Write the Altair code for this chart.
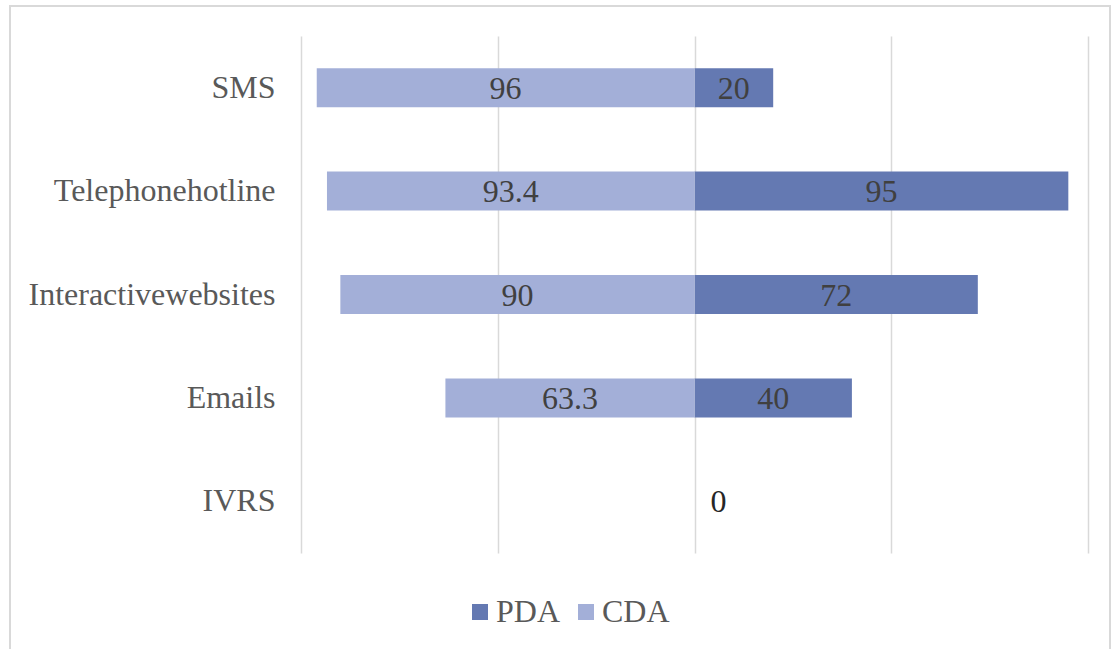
import altair as alt
import pandas as pd

# Source values
categories = ["SMS", "Telephonehotline", "Interactivewebsites", "Emails", "IVRS"]
pda_values = [20, 95, 72, 40, 0]
cda_values = [96, 93.4, 90, 63.3, None]

series_order = ["PDA", "CDA"]
series_colors = ["#6479B2", "#A3AFD8"]
FONT = "Liberation Serif"

rows = []
for cat, p, c in zip(categories, pda_values, cda_values):
    if p is not None:
        rows.append({"category": cat, "series": "PDA", "value": p, "signed": p})
    if c is not None:
        rows.append({"category": cat, "series": "CDA", "value": c, "signed": -c})
df = pd.DataFrame(rows)
df["mid"] = df["signed"] / 2
df["label"] = df["value"].map(lambda v: f"{v:g}")

x_scale = alt.Scale(domain=[-100, 100], nice=False)
y_scale = alt.Scale(domain=categories, paddingInner=0, paddingOuter=0)

base = alt.Chart(df)

bars = base.mark_bar(size=39).encode(
    x=alt.X("signed:Q", scale=x_scale,
            axis=alt.Axis(values=[-100, -50, 0, 50, 100], labels=False, ticks=False,
                          domain=False, title=None, grid=True,
                          gridColor="#d9d9d9", gridWidth=1.5)),
    y=alt.Y("category:N", scale=y_scale, sort=categories,
            axis=alt.Axis(title=None, ticks=False, domain=False, grid=False,
                          labelFont=FONT, labelFontSize=32, labelColor="#595959",
                          labelPadding=26, labelLimit=400)),
    color=alt.Color("series:N",
                    scale=alt.Scale(domain=series_order, range=series_colors),
                    legend=alt.Legend(title=None, orient="none", direction="horizontal",
                                      legendX=163, legendY=560, symbolType="square",
                                      symbolSize=256, symbolStrokeWidth=0,
                                      labelFont=FONT, labelFontSize=32,
                                      labelColor="#595959", columnPadding=9,
                                      labelOffset=0, padding=0)),
)

labels = base.transform_filter("datum.value > 0").mark_text(
    font=FONT, fontSize=32, color="#404040", baseline="middle", dy=1
).encode(
    x=alt.X("mid:Q", scale=x_scale),
    y=alt.Y("category:N", scale=y_scale, sort=categories),
    text="label:N",
)

zero_labels = base.transform_filter("datum.value == 0").mark_text(
    font=FONT, fontSize=32, color="#262626", baseline="middle", align="left", dx=16, dy=1
).encode(
    x=alt.X("signed:Q", scale=x_scale),
    y=alt.Y("category:N", scale=y_scale, sort=categories),
    text="label:N",
)

# light outer frame around the whole figure
frame = alt.Chart(pd.DataFrame({"k": [0]})).mark_rect(
    fill=None, stroke="#d9d9d9", strokeWidth=2
).encode(
    x=alt.value(-291), x2=alt.value(809), y=alt.value(-30), y2=alt.value(630)
)

chart = alt.layer(frame, bars, labels, zero_labels).properties(
    width=787, height=517,
    autosize=alt.AutoSizeParams(type="none"),
    padding={"left": 301, "top": 36, "right": 25, "bottom": 96},
    background="white",
).configure_view(stroke=None)

chart.save("out.html", embed_options={"renderer": "svg", "actions": False})
